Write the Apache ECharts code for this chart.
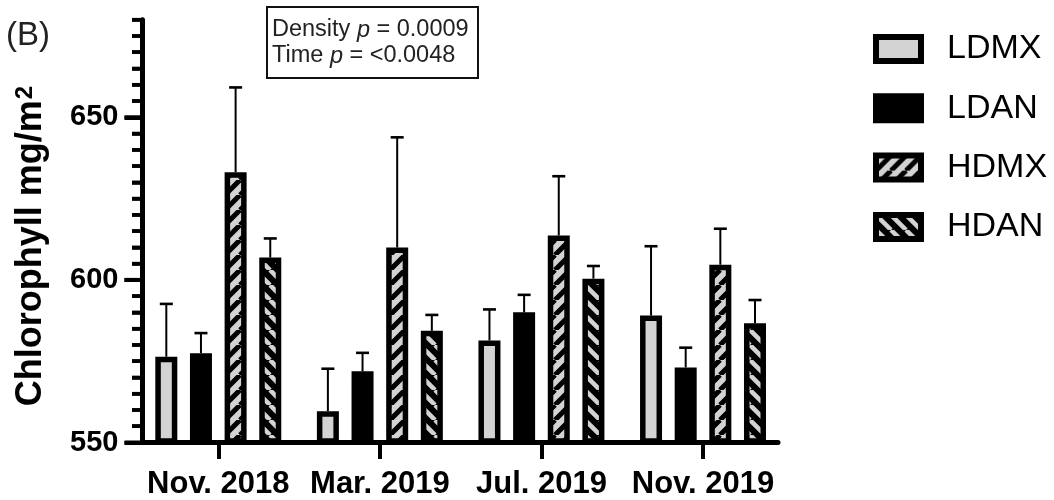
<!DOCTYPE html>
<html>
<head>
<meta charset="utf-8">
<script src="https://cdn.jsdelivr.net/npm/echarts@6.0.0/dist/echarts.min.js"></script>
<style>
  html, body { margin: 0; padding: 0; background: #fff; }
  #wrap { position: relative; width: 1054px; height: 500px; }
  #chart { position: absolute; left: 0; top: 0; width: 1054px; height: 500px; }
</style>
</head>
<body>
<div id="wrap"><div id="chart"></div></div>
<script>
// Sampling dates and treatment groups
const categories = ['Nov. 2018', 'Mar. 2019', 'Jul. 2019', 'Nov. 2019'];
const seriesNames = ['LDMX', 'LDAN', 'HDMX', 'HDAN'];

// Chlorophyll means (mg/m²) and standard deviations per group
const ldmxMean = [576.0, 559.2, 581.0, 588.7];
const ldmxSD   = [16.3, 13.1, 9.6, 21.4];
const ldanMean = [577.1, 571.5, 589.7, 572.7];
const ldanSD   = [6.2, 5.7, 5.4, 6.1];
const hdmxMean = [632.9, 609.7, 613.4, 604.4];
const hdmxSD   = [26.2, 34.0, 18.3, 11.1];
const hdanMean = [606.6, 584.0, 600.1, 586.3];
const hdanSD   = [5.9, 4.9, 3.9, 7.2];

// Axis range and tick marks
const yMin = 550;
const yMax = 680;
const yMajorStep = 50;
const yMinorStep = 5;
const yLabelTop = 650;
const yMajorTicks = [550, 600, 650];
const yMinorTicks = [555, 560, 565, 570, 575, 580, 585, 590, 595,
                     605, 610, 615, 620, 625, 630, 635, 640, 645,
                     655, 660, 665, 670, 675, 680];

// Statistics box lines
const statsDensity = 'Density {i|p} = 0.0009';
const statsTime = 'Time {i|p} = <0.0048';
const panelTag = '(B)';
const yTitle = 'Chlorophyll mg/m{s|2}';

const FONT = "'Liberation Sans', Arial, Helvetica, sans-serif";
const GRAY = '#d3d3d3';

// Plot geometry (pixels)
const plotTop = 19.7;
const plotBottomY = 442.5;
const H = 500, W = 1054;
const axisLeft = 142.5;
const axisRightX = 778;
const bandLeft = 137.5;
const bandWidth = 646.3;
const barW = 22;
const pitch = 34.65;
const barGapPct = ((pitch - barW) / barW * 100).toFixed(2) + '%';
const slotOffsets = [-1.5, -0.5, 0.5, 1.5].map(k => k * pitch);
const pxPerUnit = (plotBottomY - plotTop) / (yMax - yMin);
const labelTopY = plotBottomY - (yLabelTop - yMin) * pxPerUnit;
const majorLen = 18, minorLen = 10.5;

// Diagonal hatch tiles
function hatch(bg, fg, rising, size, lw) {
  const c = document.createElement('canvas');
  c.width = size; c.height = size;
  const ctx = c.getContext('2d');
  ctx.fillStyle = bg;
  ctx.fillRect(0, 0, size, size);
  ctx.strokeStyle = fg;
  ctx.lineWidth = lw;
  ctx.beginPath();
  for (let k = -2; k <= 2; k++) {
    if (rising) {
      ctx.moveTo(k * size, size);
      ctx.lineTo(k * size + size, 0);
    } else {
      ctx.moveTo(k * size, 0);
      ctx.lineTo(k * size + size, size);
    }
  }
  ctx.stroke();
  return { image: c, repeat: 'repeat' };
}

const fills = [
  GRAY,
  '#000',
  hatch(GRAY, '#000', true, 15, 5),
  hatch('#000', GRAY, false, 15, 4.5)
];
const means = [ldmxMean, ldanMean, hdmxMean, hdanMean];
const sds = [ldmxSD, ldanSD, hdmxSD, hdanSD];

const barSeries = seriesNames.map((name, s) => ({
  name: name,
  type: 'bar',
  xAxisIndex: 0,
  yAxisIndex: 0,
  barWidth: barW,
  barGap: barGapPct,
  z: 3,
  itemStyle: {
    color: fills[s],
    borderColor: '#000',
    borderWidth: 5.5,
    borderRadius: 0
  },
  emphasis: { disabled: true },
  data: means[s]
}));

const errorSeries = seriesNames.map((name, s) => ({
  name: name + ' SD',
  type: 'custom',
  xAxisIndex: 0,
  yAxisIndex: 0,
  z: 2,
  silent: true,
  data: means[s].map((m, i) => [i, m, m + sds[s][i]]),
  renderItem: function (params, api) {
    const i = api.value(0);
    const base = api.coord([i, api.value(1)]);
    const top = api.coord([i, api.value(2)]);
    const x = base[0] + slotOffsets[s];
    return {
      type: 'group',
      children: [
        { type: 'line', shape: { x1: x, y1: base[1], x2: x, y2: top[1] },
          style: { stroke: '#000', lineWidth: 2 } },
        { type: 'line', shape: { x1: x - 6.5, y1: top[1], x2: x + 6.5, y2: top[1] },
          style: { stroke: '#000', lineWidth: 2.6 } }
      ]
    };
  }
}));

const decorations = [
  {
    type: 'text', id: 'tag', x: 6, y: 36,
    style: { text: panelTag, fill: '#222', fontFamily: FONT, fontSize: 33, align: 'left', verticalAlign: 'middle' }
  },
  {
    type: 'text', id: 'ytitle', x: 31, y: 246, rotation: Math.PI / 2,
    style: {
      text: yTitle, fill: '#000', fontFamily: FONT, fontSize: 36, fontWeight: 'bold',
      align: 'center', verticalAlign: 'middle',
      rich: { s: { fontFamily: FONT, fontSize: 24, fontWeight: 'bold', fill: '#000', verticalAlign: 'top', padding: [0, 0, 0, 1] } }
    }
  },
  {
    type: 'rect', id: 'statsBox',
    shape: { x: 267, y: 7, width: 211, height: 71 },
    style: { fill: '#fff', stroke: '#111', lineWidth: 2 }
  },
  {
    type: 'text', id: 'stats1', x: 272, y: 30,
    style: {
      text: statsDensity, fill: '#222', fontFamily: FONT, fontSize: 23.5,
      align: 'left', verticalAlign: 'middle',
      rich: { i: { fontFamily: FONT, fontSize: 23.5, fontStyle: 'italic', fill: '#222' } }
    }
  },
  {
    type: 'text', id: 'stats2', x: 272, y: 56,
    style: {
      text: statsTime, fill: '#222', fontFamily: FONT, fontSize: 23.5,
      align: 'left', verticalAlign: 'middle',
      rich: { i: { fontFamily: FONT, fontSize: 23.5, fontStyle: 'italic', fill: '#222' } }
    }
  }
];

const chart = echarts.init(document.getElementById('chart'), null, { renderer: 'canvas' });

chart.setOption({
  animation: false,
  backgroundColor: '#fff',
  grid: [
    // bars
    { left: bandLeft, width: bandWidth, top: plotTop, bottom: H - plotBottomY, containLabel: false },
    // axis lines and 5-unit ticks
    { left: axisLeft, right: W - axisRightX, top: plotTop, bottom: H - plotBottomY, containLabel: false },
    // tick labels
    { left: axisLeft, right: W - axisRightX, top: labelTopY, bottom: H - plotBottomY, containLabel: false }
  ],
  xAxis: [
    {
      gridIndex: 0,
      type: 'category',
      data: categories,
      boundaryGap: true,
      axisLine: { show: false, onZero: false },
      axisTick: { show: true, alignWithLabel: true, interval: 0, length: 18, lineStyle: { color: '#000', width: 4 } },
      axisLabel: { show: true, interval: 0, margin: 28, color: '#000', fontFamily: FONT, fontWeight: 'bold', fontSize: 31 },
      splitLine: { show: false }
    },
    {
      gridIndex: 1,
      type: 'value', min: 0, max: 1,
      axisLine: { show: true, onZero: false, lineStyle: { color: '#000', width: 5 } },
      axisTick: { show: false },
      axisLabel: { show: false },
      splitLine: { show: false }
    },
    { gridIndex: 2, type: 'value', min: 0, max: 1, show: false }
  ],
  yAxis: [
    { gridIndex: 0, type: 'value', min: yMin, max: yMax, show: false },
    {
      gridIndex: 1,
      type: 'value', min: yMin, max: yMax, interval: yMinorStep,
      axisLine: { show: true, onZero: false, lineStyle: { color: '#000', width: 5 } },
      axisTick: { show: true, inside: false, length: minorLen, lineStyle: { color: '#000', width: 3.6, opacity: 1 } },
      axisLabel: { show: false },
      splitLine: { show: false }
    },
    {
      gridIndex: 2,
      type: 'value', min: yMin, max: yLabelTop, interval: yMajorStep,
      axisLine: { show: false, onZero: false },
      axisTick: { show: true, inside: false, length: majorLen, lineStyle: { color: '#000', width: 4, opacity: 1 } },
      axisLabel: { show: true, margin: 24, color: '#000', fontFamily: FONT, fontWeight: 'bold', fontSize: 29 },
      splitLine: { show: false }
    }
  ],
  legend: {
    orient: 'vertical',
    left: 868,
    top: 27,
    icon: 'rect',
    itemWidth: 45,
    itemHeight: 24,
    itemGap: 25.3,
    selectedMode: false,
    itemStyle: { borderColor: '#000', borderWidth: 6 },
    textStyle: { color: '#000', fontFamily: FONT, fontSize: 34, padding: [0, 0, 0, 21] },
    data: seriesNames
  },
  graphic: { elements: decorations },
  series: barSeries.concat(errorSeries)
});

// Left-axis tick marks placed with the y scale of grid 1, added once the grid is laid out
function addTicks() {
  const els = [];
  const push = (v, len, w, k) => {
    const p = chart.convertToPixel({ xAxisIndex: 1, yAxisIndex: 1 }, [0, v]);
    if (!p || !isFinite(p[0]) || !isFinite(p[1])) return;
    els.push({
      type: 'rect', id: 'ytick' + k, z: 1000, zlevel: 2, silent: true,
      shape: { x: p[0] - len, y: p[1] - w / 2, width: len + 1, height: w },
      style: { fill: '#000' }
    });
  };
  yMinorTicks.forEach((v, k) => push(v, minorLen, 3.6, 'n' + k));
  yMajorTicks.forEach((v, k) => push(v, majorLen, 4, 'j' + k));
  chart.setOption({ graphic: { elements: decorations.concat(els) } });
}
try { addTicks(); } catch (e) { console.error(e); }
</script>
</body>
</html>
